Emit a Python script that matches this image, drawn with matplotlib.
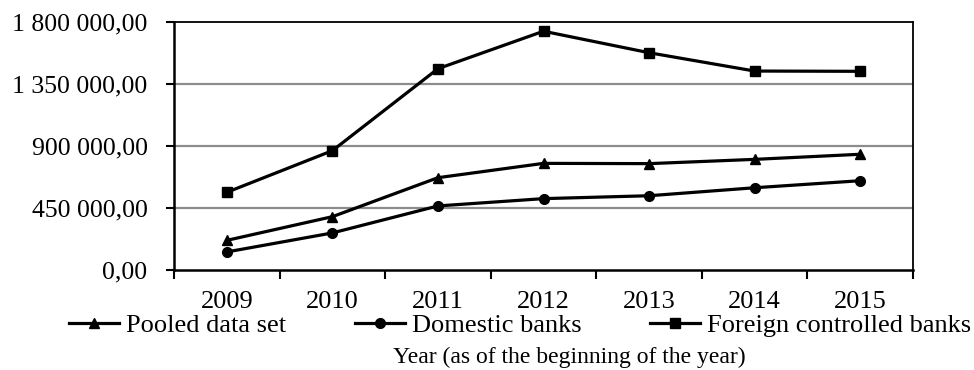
import matplotlib
matplotlib.use("Agg")
import matplotlib.pyplot as plt
from matplotlib.ticker import FuncFormatter, FixedLocator

years = ["2009", "2010", "2011", "2012", "2013", "2014", "2015"]
pooled = [215000, 387000, 670000, 774000, 772000, 803000, 840000]
domestic = [131000, 269000, 465000, 518000, 539000, 597000, 648000]
foreign = [564000, 866000, 1461000, 1733000, 1577000, 1444000, 1442000]
y_ticks = [0, 450000, 900000, 1350000, 1800000]

plt.rcParams['font.family'] = ['Liberation Serif', 'DejaVu Serif']

fig = plt.figure(figsize=(9.74, 3.70), dpi=100)
ax = fig.add_axes([174 / 974, 100 / 370, 739 / 974, 248 / 370])

x = list(range(len(years)))
lw = 2.3
ax.plot(x, pooled, color='black', lw=lw, marker='^', ms=7, label='Pooled data set', zorder=3)
ax.plot(x, domestic, color='black', lw=lw, marker='o', ms=7, label='Domestic banks', zorder=3)
ax.plot(x, foreign, color='black', lw=lw, marker='s', ms=6.5, label='Foreign controlled banks', zorder=3)

ax.set_xlim(-0.5, len(years) - 0.5)
ax.set_ylim(0, 1800000)

# category labels in the middle, tick marks on the boundaries
ax.set_xticks(x)
ax.set_xticklabels(years, fontsize=19)
ax.xaxis.set_minor_locator(FixedLocator([i - 0.5 for i in range(len(years) + 1)]))
ax.tick_params(axis='x', which='major', length=0, pad=15)
ax.tick_params(axis='x', which='minor', length=6.5, width=1.5, direction='out')

def fmt(v, pos):
    return f"{v:,.2f}".replace(",", " ").replace(".", ",")

ax.set_yticks(y_ticks)
ax.yaxis.set_major_formatter(FuncFormatter(fmt))
ax.tick_params(axis='y', length=6, width=1.5, direction='out', labelsize=18.5, pad=13)

for v in y_ticks[1:-1]:
    ax.axhline(v, color='#8c8c8c', lw=1.6, zorder=1)

for side in ['left', 'bottom']:
    ax.spines[side].set_linewidth(1.8)
for side in ['top', 'right']:
    ax.spines[side].set_linewidth(1.3)

fig.legend(loc='center', bbox_to_anchor=(520 / 974, 45 / 370), ncol=3, frameon=False,
           fontsize=19, handlelength=1.9, handletextpad=0.27, columnspacing=2.6,
           borderpad=0, borderaxespad=0)

fig.text(569 / 974, 13 / 370, "Year (as of the beginning of the year)", ha='center', va='center',
         fontsize=17)

fig.savefig("out.png", dpi=100)
